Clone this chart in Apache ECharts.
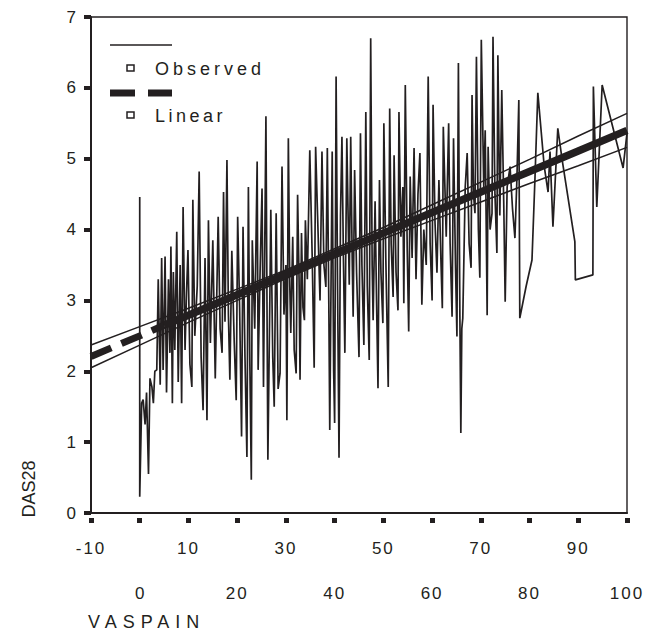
<!DOCTYPE html>
<html><head><meta charset="utf-8">
<script src="https://cdn.jsdelivr.net/npm/echarts@6/dist/echarts.min.js"></script>
<style>html,body{margin:0;padding:0;background:#fff}#c{width:646px;height:633px}</style>
</head><body><div id="c"></div>
<script>
const xTicksOdd = [-10, 10, 30, 50, 70, 90];
const xTicksEven = [0, 20, 40, 60, 80, 100];
const yTicks = [0, 1, 2, 3, 4, 5, 6, 7];

// Observed DAS28 vs VASPAIN, joined in VASPAIN order
const observed = [
 [0,4.46],[0,0.23],[0.4,1.55],[0.7,1.6],[1.1,1.25],[1.4,1.7],[1.8,0.55],[2.1,1.9],[2.5,1.78],[2.8,1.55],
 [3.1,2.0],[3.5,2.02],[3.8,3.3],[4.2,1.81],[4.5,3.6],[4.8,2.02],[5.2,3.62],[5.5,1.7],[5.9,3.3],[6.2,2.26],
 [6.4,3.76],[6.7,1.55],[6.9,3.4],[7.2,2.3],[7.6,3.97],[7.9,1.85],[8.3,3.5],
 [8.6,1.55],[8.9,4.32],[9.3,2.3],[9.6,3.1],[9.9,3.71],[10.3,2.1],[10.7,1.78],[10.9,4.42],[11.3,2.5],[11.8,3.2],
 [12.2,4.82],[12.6,2.2],[13.0,1.45],[13.4,3.6],[13.8,1.31],[14.1,4.13],[14.5,2.4],[15.0,3.85],[15.5,1.9],[16.1,4.18],
 [16.5,2.6],[16.9,2.26],[17.2,4.53],[17.5,2.7],[17.9,4.98],[18.2,2.8],[18.5,1.88],[18.9,3.7],[19.4,2.4],[19.8,1.59],
 [20.1,4.18],[20.5,2.9],[20.9,1.08],[21.2,4.04],[21.6,2.2],[22.0,0.79],[22.3,4.6],[22.6,2.1],[22.9,0.47],[23.1,3.85],
 [23.6,2.6],[24.1,4.96],[24.3,2.02],[24.7,3.4],[25.1,4.58],[25.4,1.78],[25.9,5.6],[26.3,0.75],
 [26.7,3.0],[26.9,4.28],[27.3,2.2],[27.6,1.5],[28.0,4.23],[28.4,1.75],[28.8,1.97],[29.2,4.89],[29.6,2.8],[30.0,3.5],
 [30.2,1.31],[30.5,5.29],[30.8,3.2],[31.0,2.54],[31.4,3.9],[31.7,2.3],[32.1,1.97],[32.4,4.49],[32.7,3.3],[32.9,1.88],
 [33.2,3.95],[33.5,2.9],[33.8,2.72],[34.0,4.13],[34.4,3.3],[34.9,5.12],[35.4,3.6],[35.8,2.05],[36.1,5.17],[36.5,4.2],
 [37.0,3.0],[37.4,5.1],[37.8,3.5],[38.2,3.19],[38.5,5.15],[38.8,3.0],[39.0,1.17],[39.5,5.1],[39.8,2.0],[40.0,1.27],
 [40.3,6.16],[40.6,3.2],[40.9,0.78],[41.2,4.2],[41.5,5.31],[41.8,3.6],[42.1,2.26],[42.5,5.29],[43.0,3.22],[43.3,5.31],
 [43.6,3.6],[43.8,2.77],[44.1,4.84],[44.5,3.4],[45.0,2.2],[45.3,5.36],
 [45.6,3.5],[46.0,2.37],[46.4,5.66],[46.7,3.2],[47.1,2.16],[47.4,6.7],[47.7,3.5],[47.9,2.72],[48.3,4.4],[48.6,3.0],
 [48.9,1.76],[49.2,4.7],[49.5,3.4],[49.9,2.68],[50.1,5.5],[50.5,3.6],[51.0,1.78],[51.3,5.71],[51.6,3.8],[52.0,3.05],
 [52.2,5.05],[52.6,3.4],[53.0,2.86],[53.2,5.66],[53.6,3.9],[54.0,4.6],[54.2,2.96],[54.5,6.04],[54.9,3.7],[55.2,2.56],
 [55.5,4.75],[55.9,3.6],[56.3,5.15],[56.7,3.3],[57.1,4.5],[57.5,5.08],[57.9,2.94],[58.3,4.0],[58.8,3.5],[59.2,6.16],
 [59.6,3.8],[60.0,3.0],[60.2,5.76],[60.6,4.1],[61.0,3.39],[61.4,4.7],[61.8,3.6],[62.1,2.89],[62.3,5.45],[62.9,3.9],[63.4,5.5],
 [63.7,3.8],[64.1,2.77],[64.4,5.29],[64.8,3.5],[65.1,2.49],[65.4,6.35],[65.7,2.8],[65.9,1.13],[66.1,2.6],[66.3,2.75],
 [66.8,4.6],[67.2,5.08],[67.6,3.8],[68.0,3.46],[68.2,5.9],[68.5,4.5],[68.8,4.23],[69.1,6.44],[69.5,4.0],[69.8,3.32],
 [70.1,6.68],[70.6,4.6],[70.9,5.4],[71.3,2.79],[71.5,5.17],[71.9,4.0],[72.3,4.23],[72.5,6.72],[72.9,4.5],[73.3,3.67],
 [73.5,6.46],[73.9,4.2],[74.3,5.97],[74.7,4.4],[75.0,2.98],[75.4,4.6],[76.0,4.89],[76.5,4.3],[77.0,3.88],[77.4,4.7],
 [77.8,5.83],[78.0,2.75],[79.3,3.2],[80.5,3.57],[81.1,4.7],[81.7,5.93],
 [83.0,4.9],[83.8,4.53],[84.2,5.1],[84.8,4.04],[85.8,5.43],[86.7,4.98],[89.3,3.83],[89.4,3.29],[93.0,3.36],[93.1,6.02],
 [93.8,4.32],[94.9,6.04],[99.2,4.87],[100,5.36]
];

// Linear fit line and its confidence band
const linearX = [-10, 0, 5, 10, 20, 30, 40, 50, 60, 70, 80, 90, 100];
const linearY = [2.21, 2.50, 2.65, 2.79, 3.08, 3.37, 3.66, 3.95, 4.24, 4.53, 4.82, 5.11, 5.40];
const bandX  = [-10, 0, 10, 20, 30, 40, 50, 60, 70, 80, 90, 100];
const upperY = [2.37, 2.63, 2.89, 3.16, 3.43, 3.73, 4.03, 4.35, 4.67, 4.99, 5.32, 5.64];
const lowerY = [2.05, 2.37, 2.69, 3.00, 3.31, 3.60, 3.87, 4.13, 4.39, 4.65, 4.90, 5.16];

const INK = '#231f20';
const FONT = 'Liberation Sans, Arial, sans-serif';

const zip = (xs, ys) => xs.map((x, i) => [x, ys[i]]);
const linPts = zip(linearX, linearY);
const linDashed = linPts.filter(p => p[0] <= 5);
const linSolid = linPts.filter(p => p[0] >= 5);

const chart = echarts.init(document.getElementById('c'), null, {renderer: 'svg'});
const xBase = {
  type: 'value', min: -10, max: 100, interval: 10, position: 'bottom',
  splitLine: {show: false}
};
chart.setOption({
  animation: false,
  backgroundColor: '#fff',
  grid: {left: 91, right: 19, top: 17, bottom: 120, show: true, borderColor: INK, borderWidth: 1.4, backgroundColor: 'transparent'},
  xAxis: [
    Object.assign({}, xBase, {
      axisLine: {show: true, onZero: false, lineStyle: {color: INK, width: 2}},
      axisTick: {show: false},
      axisLabel: {margin: 27, fontSize: 17, color: INK, fontFamily: FONT,
        formatter: v => xTicksOdd.includes(v) ? String(v) : ''}
    }),
    Object.assign({}, xBase, {
      offset: 5,
      axisLine: {show: false, onZero: false},
      axisTick: {show: true, length: 5, lineStyle: {color: INK, width: 5}},
      axisLabel: {margin: 67, fontSize: 17, color: INK, fontFamily: FONT,
        formatter: v => xTicksEven.includes(v) ? String(v) : ''}
    })
  ],
  yAxis: {
    type: 'value', min: 0, max: 7, interval: 1,
    splitLine: {show: false},
    axisLine: {show: true, onZero: false, lineStyle: {color: INK, width: 2}},
    axisTick: {show: true, length: 7, lineStyle: {color: INK, width: 4}},
    axisLabel: {margin: 15, fontSize: 17, color: INK, fontFamily: FONT,
      formatter: v => yTicks.includes(v) ? String(v) : ''}
  },
  series: [
    {name: 'Observed', type: 'line', data: observed, showSymbol: false, z: 2,
     lineStyle: {color: INK, width: 1.7}},
    {name: 'Upper', type: 'line', data: zip(bandX, upperY), showSymbol: false, z: 3,
     lineStyle: {color: INK, width: 1.5}},
    {name: 'Lower', type: 'line', data: zip(bandX, lowerY), showSymbol: false, z: 3,
     lineStyle: {color: INK, width: 1.5}},
    {name: 'Linear', type: 'line', data: linDashed, showSymbol: false, z: 4,
     lineStyle: {color: INK, width: 7, type: [22, 11], cap: 'butt'}},
    {name: 'Linear', type: 'line', data: linSolid, showSymbol: false, z: 4,
     lineStyle: {color: INK, width: 7.5, cap: 'butt'}}
  ],
  graphic: [
    {type: 'line', shape: {x1: 110, y1: 45, x2: 172, y2: 45}, style: {stroke: INK, lineWidth: 1.5}},
    {type: 'rect', shape: {x: 127, y: 65, width: 7, height: 6}, style: {fill: '#fff', stroke: INK, lineWidth: 1.5}},
    {type: 'text', x: 155, y: 69, style: {text: 'Observed', fontSize: 18, fill: INK, fontFamily: FONT, verticalAlign: 'middle'}},
    {type: 'line', shape: {x1: 110, y1: 93, x2: 135, y2: 93}, style: {stroke: INK, lineWidth: 7}},
    {type: 'line', shape: {x1: 148, y1: 93, x2: 172, y2: 93}, style: {stroke: INK, lineWidth: 7}},
    {type: 'rect', shape: {x: 127, y: 112, width: 7, height: 6}, style: {fill: '#fff', stroke: INK, lineWidth: 1.5}},
    {type: 'text', x: 155, y: 116, style: {text: 'Linear', fontSize: 18, fill: INK, fontFamily: FONT, verticalAlign: 'middle'}},
    {type: 'text', x: 29, y: 489, rotation: Math.PI / 2, style: {text: 'DAS28', fontSize: 18, fill: INK, fontFamily: FONT, align: 'center', verticalAlign: 'middle'}},
    {type: 'text', x: 88, y: 622, style: {text: 'VASPAIN', fontSize: 18, fill: INK, fontFamily: FONT, verticalAlign: 'middle'}}
  ]
});

// wide letter tracking as in the original typesetting
const tracking = {'Observed': '4px', 'Linear': '3.5px', 'VASPAIN': '6px'};
document.querySelectorAll('#c text').forEach(t => {
  const s = t.textContent.trim();
  if (tracking[s]) t.setAttribute('letter-spacing', tracking[s]);
  else if (/^-?\d{2,}$/.test(s)) t.setAttribute('letter-spacing', '2px');
});
</script>
</body></html>
